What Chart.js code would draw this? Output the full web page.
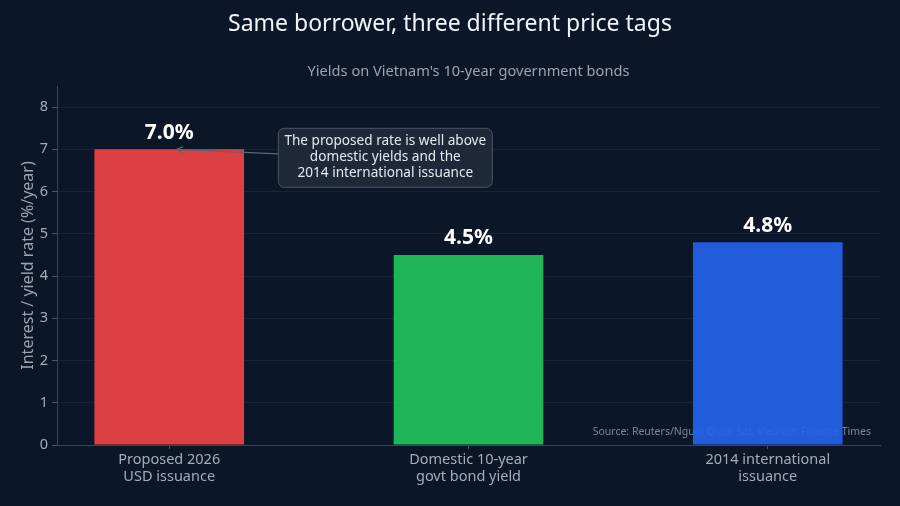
<!DOCTYPE html>
<html lang="en">
<head>
  <meta charset="UTF-8" />
  <title>Same borrower, three different price tags</title>
  <script src="https://cdn.jsdelivr.net/npm/chart.js"></script>
  <style>
    html, body { margin: 0; padding: 0; background: #0b1628; }
    .wrap { width: 900px; height: 506px; }
  </style>
</head>
<body>
  <div class="wrap"><canvas id="bonds" width="900" height="506"></canvas></div>

  <script>
    const categories = [
      ['Proposed 2026', 'USD issuance'],
      ['Domestic 10-year', 'govt bond yield'],
      ['2014 international', 'issuance']
    ];
    const rates = [7.0, 4.5, 4.8];
    const barColors = ['#f04545', '#22c55e', '#2563eb'];
    const yTicks = [0, 1, 2, 3, 4, 5, 6, 7, 8];
    const noteLines = ['The proposed rate is well above', 'domestic yields and the', '2014 international issuance'];
    const titleText = 'Same borrower, three different price tags';
    const subtitleText = "Yields on Vietnam's 10-year government bonds";
    const sourceText = 'Source: Reuters/Nguoi Quan Sat, Vietnam Finance Times';

    const FONT = '"Noto Sans", "Open Sans", sans-serif';

    // title centred on the page, subtitle centred on the plot; source note under the bars
    const backPlugin = {
      id: 'backText',
      beforeDatasetsDraw(chart) {
        const { ctx, chartArea } = chart;
        ctx.save();
        ctx.textAlign = 'center';
        ctx.textBaseline = 'middle';
        ctx.font = '23px ' + FONT;
        ctx.fillStyle = '#f1f4f8';
        ctx.fillText(titleText, chart.width / 2, 24);
        ctx.font = '14.6px ' + FONT;
        ctx.fillStyle = '#9aa4b2';
        ctx.fillText(subtitleText, (chartArea.left + chartArea.right) / 2, 72);

        ctx.font = '10.5px ' + FONT;
        ctx.fillStyle = '#7c8796';
        ctx.textAlign = 'right';
        ctx.fillText(sourceText, chartArea.right - 9, chartArea.bottom - 13);
        ctx.restore();
      }
    };

    const labelPlugin = {
      id: 'valueLabels',
      afterDatasetsDraw(chart) {
        const { ctx } = chart;
        const meta = chart.getDatasetMeta(0);
        ctx.save();
        ctx.font = 'bold 21px ' + FONT;
        ctx.fillStyle = '#ffffff';
        ctx.textAlign = 'center';
        ctx.textBaseline = 'bottom';
        meta.data.forEach((bar, i) => {
          ctx.fillText(rates[i].toFixed(1) + '%', bar.x, bar.y - 6);
        });

        // annotation box + arrow
        const xs = chart.scales.x, ys = chart.scales.y;
        const bx = xs.getPixelForValue(0.722), by = ys.getPixelForValue(6.8);
        const w = 214, h = 59;
        const left = bx - w / 2, top = by - h / 2;
        const tipX = xs.getPixelForValue(0.025), tipY = ys.getPixelForValue(7);

        ctx.strokeStyle = '#5b6677';
        ctx.lineWidth = 1.2;
        ctx.beginPath();
        ctx.moveTo(left, by - 4);
        ctx.lineTo(tipX, tipY);
        ctx.stroke();
        const ang = Math.atan2(tipY - (by - 4), tipX - left);
        ctx.beginPath();
        ctx.moveTo(tipX, tipY);
        ctx.lineTo(tipX - 7 * Math.cos(ang - 0.45), tipY - 7 * Math.sin(ang - 0.45));
        ctx.moveTo(tipX, tipY);
        ctx.lineTo(tipX - 7 * Math.cos(ang + 0.45), tipY - 7 * Math.sin(ang + 0.45));
        ctx.stroke();

        ctx.beginPath();
        ctx.roundRect(left, top, w, h, 6);
        ctx.fillStyle = 'rgba(31, 42, 58, 0.92)';
        ctx.fill();
        ctx.strokeStyle = '#4b5566';
        ctx.lineWidth = 1;
        ctx.stroke();

        ctx.font = '13.6px ' + FONT;
        ctx.fillStyle = '#e5e9ef';
        ctx.textBaseline = 'middle';
        noteLines.forEach((line, i) => {
          ctx.fillText(line, bx, top + 13 + i * 16);
        });
        ctx.restore();
      }
    };

    new Chart(document.getElementById('bonds'), {
      type: 'bar',
      data: {
        datasets: [{
          data: rates.map((v, i) => ({ x: i, y: v })),
          backgroundColor: barColors.map(c => c + 'ea'),
          borderWidth: 0,
          barPercentage: 0.5,
          categoryPercentage: 1
        }]
      },
      options: {
        responsive: false,
        animation: false,
        layout: { padding: { left: 0, right: 20, top: 86, bottom: 0 } },
        plugins: {
          legend: { display: false },
          tooltip: { enabled: false },
          title: { display: false }
        },
        scales: {
          x: {
            type: 'linear',
            offset: false,
            min: -0.375,
            max: 2.375,
            afterBuildTicks(scale) { scale.ticks = categories.map((c, i) => ({ value: i })); },
            afterFit(scale) { scale.height = 61; },
            ticks: {
              color: '#a3adba',
              font: { family: FONT, size: 14.5 },
              padding: 2,
              callback: (v) => categories[v]
            },
            grid: { drawOnChartArea: false, drawTicks: true, tickLength: 4, color: '#4a5568', offset: false },
            border: { color: '#3c4657' }
          },
          y: {
            min: 0,
            max: 8.5,
            afterBuildTicks(scale) { scale.ticks = yTicks.map(v => ({ value: v })); },
            afterFit(scale) { scale.width = 57; },
            title: {
              display: true,
              text: 'Interest / yield rate (%/year)',
              color: '#9aa4b2',
              font: { family: FONT, size: 16 },
              padding: { top: 19, bottom: 4 }
            },
            ticks: {
              color: '#a3adba',
              font: { family: FONT, size: 14.5 },
              padding: 4
            },
            grid: { color: 'rgba(148, 163, 184, 0.1)', tickColor: '#4a5568', tickLength: 5 },
            border: { color: '#3c4657' }
          }
        }
      },
      plugins: [backPlugin, labelPlugin]
    });
  </script>
</body>
</html>
